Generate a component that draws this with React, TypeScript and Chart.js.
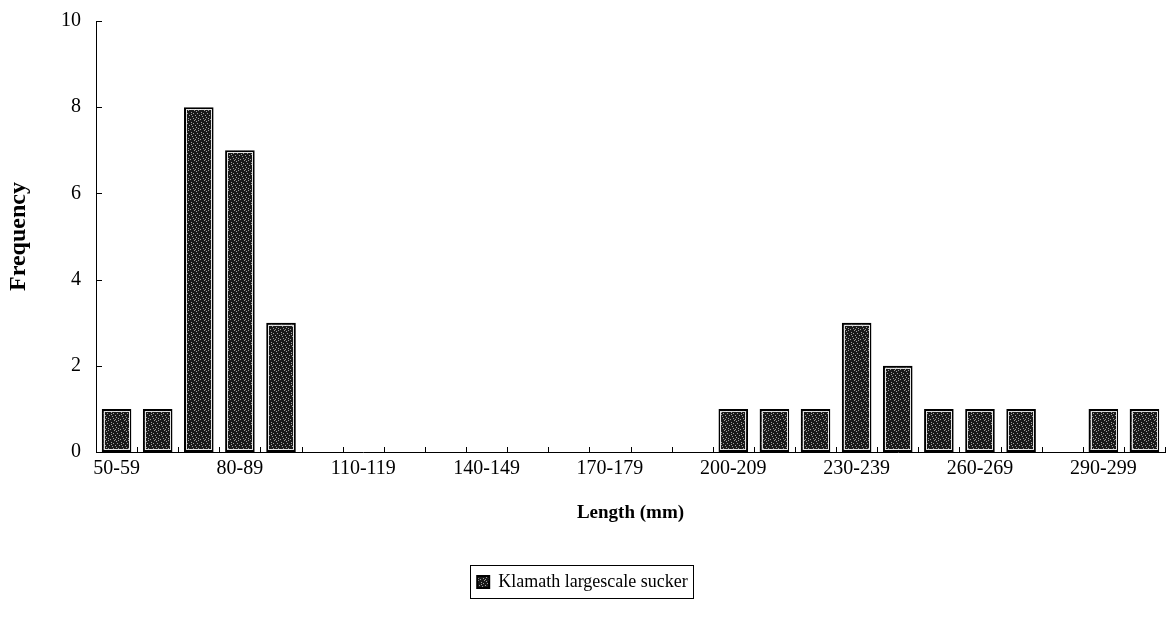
import React, { useEffect, useRef } from "react";
import { Chart, registerables } from "chart.js";

Chart.register(...registerables);

const categories = [
  "50-59", "60-69", "70-79", "80-89", "90-99", "100-109", "110-119", "120-129",
  "130-139", "140-149", "150-159", "160-169", "170-179", "180-189", "190-199",
  "200-209", "210-219", "220-229", "230-239", "240-249", "250-259", "260-269",
  "270-279", "280-289", "290-299", "300-309",
];
const frequency = [1, 1, 8, 7, 3, 0, 0, 0, 0, 0, 0, 0, 0, 0, 0, 1, 1, 1, 3, 2, 1, 1, 1, 0, 1, 1];
const seriesName = "Klamath largescale sucker";
const yTicks = [0, 2, 4, 6, 8, 10];

const SERIF = "'Liberation Serif', 'Times New Roman', Times, serif";

function makePattern(): CanvasPattern | string {
  const c = document.createElement("canvas");
  c.width = 10;
  c.height = 10;
  const g = c.getContext("2d");
  if (!g) return "#333";
  g.fillStyle = "#1a1a1a";
  g.fillRect(0, 0, 10, 10);
  g.fillStyle = "#a0a0a0";
  const dots = [
    [1, 2], [4, 0], [7, 3], [2, 6], [5, 5], [8, 8], [0, 9], [6, 1], [3, 8],
    [9, 5], [5, 9], [8, 0], [1, 4], [6, 7], [3, 3],
  ];
  dots.forEach(([x, y]) => g.fillRect(x, y, 1, 1));
  const p = g.createPattern(c, "repeat");
  return p || "#333";
}

const inwardTicks = {
  id: "inwardTicks",
  afterDraw(chart: any) {
    const ctx = chart.ctx;
    const xs = chart.scales.x;
    const ys = chart.scales.y;
    ctx.save();
    ctx.strokeStyle = "#000";
    ctx.lineWidth = 1;
    ctx.beginPath();
    ys.ticks.forEach((t: any) => {
      const py = Math.round(ys.getPixelForValue(t.value)) + 0.5;
      ctx.moveTo(ys.right, py);
      ctx.lineTo(ys.right + 6, py);
    });
    const n = chart.data.labels.length;
    const step = xs.getPixelForValue(1) - xs.getPixelForValue(0);
    for (let i = 0; i <= n; i++) {
      const px = Math.round(xs.getPixelForValue(0) - step / 2 + i * step) + 0.5;
      ctx.moveTo(px, xs.top);
      ctx.lineTo(px, xs.top - 5);
    }
    ctx.stroke();
    ctx.restore();
  },
};

const innerWhite = {
  id: "innerWhite",
  afterDatasetsDraw(chart: any) {
    const ctx = chart.ctx;
    const meta = chart.getDatasetMeta(0);
    ctx.save();
    ctx.strokeStyle = "rgba(255,255,255,0.85)";
    ctx.lineWidth = 1;
    meta.data.forEach((el: any) => {
      const { x, y, base, width } = el.getProps(["x", "y", "base", "width"], true);
      const h = base - y;
      if (h < 6) return;
      const l = x - width / 2;
      ctx.strokeRect(Math.round(l) + 2.5, Math.round(y) + 2.5, Math.round(width) - 5, Math.round(h) - 5);
    });
    ctx.restore();
  },
};

const legendBox = {
  id: "legendBox",
  afterDraw(chart: any) {
    const lg = chart.legend;
    if (!lg || !lg.legendHitBoxes || !lg.legendHitBoxes.length) return;
    const hb = lg.legendHitBoxes[0];
    const ctx = chart.ctx;
    ctx.save();
    ctx.strokeStyle = "#000";
    ctx.lineWidth = 1;
    ctx.strokeRect(Math.round(hb.left) - 6.5, Math.round(hb.top) - 7.5, Math.round(hb.width) + 12, Math.round(hb.height) + 15);
    ctx.restore();
  },
};

export default function App() {
  const ref = useRef<HTMLCanvasElement | null>(null);
  useEffect(() => {
    if (!ref.current) return;
    const pattern = makePattern();
    const chart = new Chart(ref.current, {
      type: "bar",
      data: {
        labels: categories,
        datasets: [
          {
            label: seriesName,
            data: frequency,
            backgroundColor: pattern as any,
            borderColor: "#000",
            borderWidth: 2,
            borderSkipped: false,
            barPercentage: 0.9,
            categoryPercentage: 0.8,
          },
        ],
      },
      options: {
        animation: false,
        responsive: false,
        layout: { padding: { left: 0, right: 2, top: 21, bottom: 23 } },
        plugins: {
          tooltip: { enabled: false },
          legend: {
            position: "bottom",
            labels: {
              color: "#000",
              font: { family: SERIF, size: 18 },
              boxWidth: 12,
              boxHeight: 12,
              padding: 10,
            },
          },
        },
        scales: {
          x: {
            grid: { display: false, drawTicks: false },
            border: { display: true, color: "#000", width: 1 },
            ticks: {
              color: "#000",
              font: { family: SERIF, size: 20 },
              maxRotation: 0,
              autoSkip: false,
              padding: 5,
              callback: (_v: any, i: number) => (i % 3 === 0 ? categories[i] : ""),
            },
            title: {
              display: true,
              text: "Length (mm)",
              color: "#000",
              font: { family: SERIF, size: 19, weight: "bold" },
              padding: { top: 0, bottom: 39 },
            },
            afterFit: (s: any) => {
              s.height = 111;
              s.paddingLeft = 0;
              s.paddingRight = 0;
            },
          },
          y: {
            min: 0,
            max: 10,
            grid: { display: false, drawTicks: false },
            border: { display: true, color: "#000", width: 1 },
            afterBuildTicks: (s: any) => {
              s.ticks = yTicks.map((v) => ({ value: v }));
            },
            ticks: {
              color: "#000",
              font: { family: SERIF, size: 20 },
              padding: 15,
            },
            title: {
              display: true,
              text: "Frequency",
              color: "#000",
              font: { family: SERIF, size: 24, weight: "bold" },
              padding: { top: 4, bottom: 0 },
            },
            afterFit: (s: any) => {
              s.width = 96;
              s.paddingTop = 0;
              s.paddingBottom = 0;
            },
          },
        },
      },
      plugins: [inwardTicks, innerWhite, legendBox],
    });
    return () => chart.destroy();
  }, []);
  return (
    <div style={{ position: "absolute", left: 0, top: 0, width: 1167, height: 624, background: "#fff" }}>
      <canvas ref={ref} width={1167} height={624} style={{ display: "block" }} />
    </div>
  );
}
